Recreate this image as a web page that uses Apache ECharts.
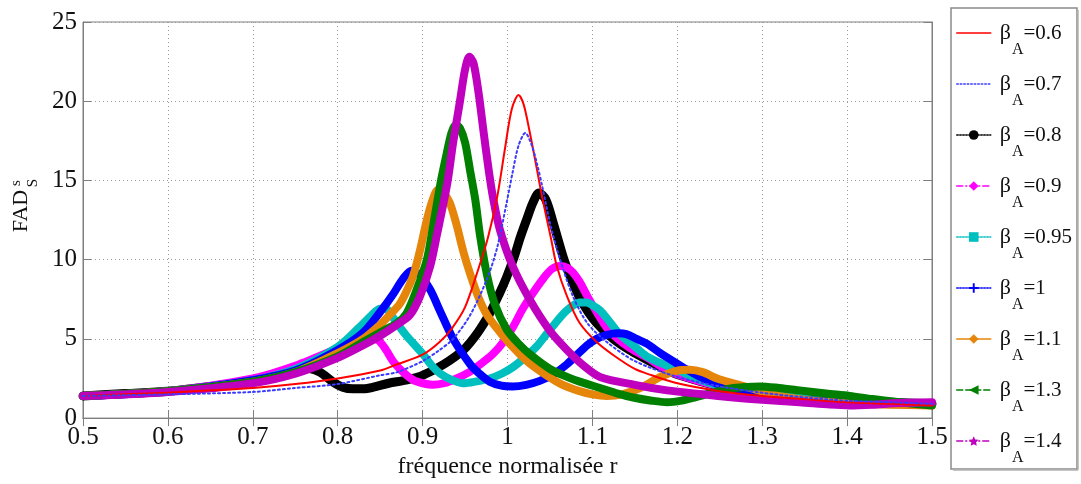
<!DOCTYPE html>
<html><head><meta charset="utf-8">
<script src="https://cdn.jsdelivr.net/npm/echarts@6/dist/echarts.min.js"></script>
<style>html,body{margin:0;padding:0;background:#fff}#c{width:1081px;height:484px}</style>
</head><body><div id="c"></div>
<script>
// ---- data (r, FAD) ----
const beta06 = [[0.5,1.4],[0.55,1.5],[0.6,1.6],[0.65,1.75],[0.7,1.9],[0.75,2.15],[0.8,2.5],[0.85,3.0],[0.87,3.4],[0.9,4.0],[0.92,4.8],[0.935,5.7],[0.95,7.0],[0.965,9.3],[0.977,11.4],[0.988,14.0],[0.997,17.0],[1.005,19.5],[1.013,20.4],[1.019,19.8],[1.026,18.1],[1.035,15.6],[1.041,13.9],[1.051,11.4],[1.058,9.6],[1.07,7.7],[1.085,6.0],[1.105,4.8],[1.124,4.0],[1.15,3.1],[1.17,2.7],[1.2,2.2],[1.25,1.7],[1.3,1.4],[1.35,1.2],[1.4,1.0],[1.45,0.9],[1.5,0.8]];
const beta07 = [[0.5,1.4],[0.6,1.5],[0.7,1.65],[0.75,1.9],[0.8,2.15],[0.85,2.7],[0.87,2.9],[0.9,3.6],[0.92,4.3],[0.936,5.0],[0.956,6.5],[0.976,8.8],[0.988,10.8],[0.999,13.6],[1.006,15.5],[1.013,17.2],[1.021,18.0],[1.028,17.3],[1.035,16.0],[1.041,14.6],[1.051,12.1],[1.062,10.0],[1.077,7.7],[1.094,6.0],[1.117,4.8],[1.15,3.6],[1.2,2.6],[1.25,2.0],[1.3,1.6],[1.35,1.3],[1.4,1.1],[1.45,1.0],[1.5,0.9]];
const beta08 = [[0.5,1.4],[0.55,1.55],[0.6,1.7],[0.65,2.0],[0.7,2.4],[0.73,2.85],[0.752,3.2],[0.765,3.15],[0.779,2.9],[0.794,2.3],[0.806,1.95],[0.818,1.85],[0.83,1.85],[0.842,1.95],[0.86,2.2],[0.88,2.4],[0.9,2.7],[0.925,3.4],[0.948,4.3],[0.965,5.4],[0.979,6.6],[0.99,7.8],[0.999,8.9],[1.008,10.2],[1.015,11.4],[1.023,12.6],[1.03,13.6],[1.037,14.2],[1.045,13.8],[1.054,12.3],[1.066,10.1],[1.075,8.8],[1.085,7.6],[1.095,6.7],[1.105,6.0],[1.118,5.3],[1.132,4.7],[1.15,4.1],[1.164,3.7],[1.185,3.1],[1.203,2.7],[1.25,2.0],[1.3,1.6],[1.35,1.3],[1.4,1.1],[1.45,1.0],[1.5,0.9]];
const beta09 = [[0.5,1.4],[0.6,1.7],[0.7,2.5],[0.75,3.3],[0.8,4.4],[0.82,4.9],[0.835,5.1],[0.848,4.9],[0.857,4.3],[0.865,3.6],[0.877,2.9],[0.889,2.4],[0.9,2.2],[0.912,2.1],[0.925,2.2],[0.94,2.5],[0.955,2.9],[0.968,3.4],[0.982,4.0],[0.995,4.8],[1.007,5.8],[1.018,6.9],[1.03,7.9],[1.042,8.8],[1.052,9.4],[1.062,9.6],[1.07,9.5],[1.077,9.2],[1.085,8.6],[1.094,7.7],[1.105,6.7],[1.117,5.7],[1.13,5.0],[1.145,4.4],[1.165,3.8],[1.183,3.2],[1.203,2.7],[1.25,2.0],[1.3,1.6],[1.35,1.3],[1.4,1.1],[1.45,1.0],[1.5,0.9]];
const beta095 = [[0.5,1.4],[0.6,1.7],[0.7,2.4],[0.75,3.1],[0.8,4.5],[0.825,5.7],[0.84,6.5],[0.85,6.9],[0.857,6.9],[0.862,6.6],[0.871,5.9],[0.881,5.2],[0.891,4.6],[0.901,4.0],[0.911,3.3],[0.921,2.8],[0.935,2.4],[0.948,2.2],[0.962,2.3],[0.979,2.5],[0.993,2.8],[1.006,3.2],[1.02,3.8],[1.034,4.5],[1.046,5.3],[1.058,6.1],[1.068,6.7],[1.077,7.1],[1.085,7.3],[1.093,7.3],[1.101,7.1],[1.109,6.8],[1.12,6.1],[1.132,5.3],[1.148,4.6],[1.164,3.9],[1.188,3.3],[1.21,2.8],[1.227,2.4],[1.26,1.9],[1.3,1.6],[1.35,1.3],[1.4,1.1],[1.45,1.0],[1.5,0.9]];
const beta10 = [[0.5,1.4],[0.6,1.7],[0.7,2.4],[0.75,3.0],[0.8,4.3],[0.83,5.4],[0.85,6.7],[0.865,7.8],[0.877,8.8],[0.887,9.3],[0.897,9.0],[0.909,8.1],[0.921,6.7],[0.936,5.0],[0.956,3.4],[0.967,2.8],[0.979,2.3],[0.993,2.05],[1.006,2.0],[1.022,2.1],[1.038,2.35],[1.055,2.8],[1.07,3.4],[1.082,4.0],[1.094,4.6],[1.105,5.0],[1.117,5.25],[1.13,5.35],[1.14,5.3],[1.152,5.0],[1.164,4.7],[1.18,4.1],[1.195,3.6],[1.21,3.1],[1.227,2.6],[1.25,2.1],[1.266,1.8],[1.306,1.35],[1.35,1.15],[1.4,1.0],[1.45,0.95],[1.5,0.9]];
const beta11 = [[0.5,1.4],[0.6,1.7],[0.7,2.3],[0.75,2.9],[0.8,4.1],[0.83,5.0],[0.85,5.9],[0.861,6.5],[0.873,7.2],[0.881,8.0],[0.889,9.0],[0.897,10.6],[0.905,12.5],[0.912,13.8],[0.918,14.4],[0.925,14.2],[0.932,13.6],[0.94,12.2],[0.948,10.5],[0.956,9.1],[0.966,7.6],[0.976,6.5],[0.99,5.5],[1.006,4.5],[1.025,3.5],[1.046,2.7],[1.065,2.1],[1.085,1.7],[1.1,1.5],[1.117,1.4],[1.135,1.5],[1.156,1.9],[1.18,2.6],[1.2,3.0],[1.215,3.05],[1.23,2.9],[1.247,2.5],[1.266,2.2],[1.286,1.9],[1.305,1.6],[1.325,1.35],[1.35,1.15],[1.384,1.0],[1.42,0.9],[1.45,0.85],[1.5,0.8]];
const beta13 = [[0.5,1.4],[0.6,1.7],[0.7,2.3],[0.75,2.9],[0.8,3.9],[0.83,4.8],[0.85,5.4],[0.87,6.0],[0.881,6.6],[0.893,8.1],[0.905,10.0],[0.912,12.0],[0.921,14.8],[0.928,16.6],[0.934,18.0],[0.939,18.5],[0.944,18.3],[0.95,17.4],[0.956,15.6],[0.962,13.8],[0.968,11.4],[0.976,9.0],[0.985,7.2],[0.999,5.6],[1.013,4.7],[1.027,4.0],[1.05,3.1],[1.07,2.6],[1.085,2.3],[1.109,1.9],[1.13,1.55],[1.148,1.3],[1.17,1.1],[1.188,1.0],[1.205,1.1],[1.22,1.3],[1.245,1.65],[1.266,1.9],[1.297,2.0],[1.32,1.9],[1.344,1.75],[1.375,1.55],[1.403,1.4],[1.43,1.2],[1.462,1.0],[1.5,0.8]];
const beta14 = [[0.5,1.4],[0.6,1.65],[0.7,2.2],[0.75,2.8],[0.8,3.8],[0.83,4.6],[0.85,5.2],[0.87,5.9],[0.885,6.5],[0.897,7.7],[0.909,9.6],[0.917,11.6],[0.929,14.8],[0.936,17.4],[0.944,20.0],[0.95,22.0],[0.955,22.8],[0.96,22.4],[0.966,20.5],[0.972,18.0],[0.978,15.6],[0.983,13.9],[0.991,11.9],[1.006,9.6],[1.027,7.4],[1.05,5.5],[1.07,4.3],[1.09,3.3],[1.109,2.6],[1.15,2.1],[1.188,1.75],[1.23,1.5],[1.266,1.3],[1.3,1.15],[1.344,1.0],[1.38,0.85],[1.403,0.8],[1.43,0.85],[1.46,0.95],[1.5,1.0]];
const betaLabels = ['0.6','0.7','0.8','0.9','0.95','1','1.1','1.3','1.4'];
const xName = 'fréquence normalisée r';
const xMin = 0.5, xMax = 1.5, xStep = 0.1;
const yMin = 0, yMax = 25, yStep = 5;

const FONT = 'Liberation Serif';
const STAR = 'path://M0,-10L2.9,-4L9.5,-3.1L4.7,1.5L5.9,8.1L0,5L-5.9,8.1L-4.7,1.5L-9.5,-3.1L-2.9,-4Z';
const PLUS = 'path://M-1.2,-6H1.2V-1.2H6V1.2H1.2V6H-1.2V1.2H-6V-1.2H-1.2Z';

const datasets = [beta06, beta07, beta08, beta09, beta095, beta10, beta11, beta13, beta14];
const styles = [
  {color:'#ff0000', w:2,   z:5, symbol:'none',    leg:'solid', noMark:true},
  {color:'#3b3bff', w:2,   z:6, symbol:'none',    leg:[1.5,2], dot:true, noMark:true},
  {color:'#000000', w:9,   z:2, symbol:'circle',  leg:'dotted'},
  {color:'#ff00ff', w:8,   z:2, symbol:'diamond', leg:[6,3,1,3]},
  {color:'#00bfbf', w:8,   z:2, symbol:'rect',    leg:'dotted'},
  {color:'#0000ff', w:8,   z:2, symbol:PLUS,      leg:'dotted'},
  {color:'#e5850a', w:8,   z:2, symbol:'diamond', leg:'solid'},
  {color:'#007f00', w:8,   z:2, symbol:'triangle',leg:'dashed', rot:90},
  {color:'#bf00bf', w:8,   z:2, symbol:STAR,      leg:[6,3,1,3]}
];
const names = betaLabels.map(b => 'βA=' + b);

const series = datasets.map((d, i) => {
  const s = styles[i];
  return {
    type:'line', name:names[i], data:d, z:s.z,
    symbol:s.symbol, symbolRotate:s.rot || 0, showSymbol:false, symbolSize:8,
    smooth:0.3, animation:false, silent:true,
    itemStyle:{color:s.color},
    lineStyle:{color:s.color, width:s.w, type: s.dot ? [2,3] : 'solid', cap:'round', join:'round'}
  };
});

const legendData = names.map((n, i) => ({
  name:n,
  lineStyle:{width:1.5, type: styles[i].leg, color: styles[i].color},
  itemStyle: styles[i].noMark ? {color:'rgba(0,0,0,0)', opacity:0, borderWidth:0} : {color: styles[i].color}
}));

const chart = echarts.init(document.getElementById('c'), null, {renderer:'canvas'});
const axisCol = '#7f7f7f';
chart.setOption({
  animation:false,
  backgroundColor:'#fff',
  textStyle:{fontFamily:FONT},
  grid:{left:83, right:149, top:22, bottom:60, show:true, borderColor:axisCol, borderWidth:1, backgroundColor:'#fff'},
  legend:{
    orient:'vertical', left:956, top:8, padding:0, itemGap:1,
    itemWidth:34, itemHeight:12, selectedMode:false,
    data:legendData,
    formatter: n => '{b|β}{s|A}{e|=' + n.split('=')[1] + '}',
    textStyle:{fontFamily:FONT, color:'#111',
      rich:{
        b:{fontFamily:FONT, fontSize:22, lineHeight:24, padding:[0,0,0,4], color:'#111'},
        s:{fontFamily:FONT, fontSize:16, lineHeight:20, padding:[34,0,0,1], color:'#111'},
        e:{fontFamily:FONT, fontSize:21, lineHeight:24, color:'#111'}
      }}
  },
  xAxis:[{
    type:'value', min:xMin, max:xMax, interval:xStep, position:'bottom',
    name:xName, nameLocation:'middle', nameGap:33,
    nameTextStyle:{fontFamily:FONT, fontSize:24, color:'#111'},
    axisLine:{show:true, lineStyle:{color:axisCol}},
    axisTick:{show:true, inside:true, length:8, lineStyle:{color:axisCol}},
    axisLabel:{fontFamily:FONT, fontSize:25, color:'#111', margin:7},
    splitLine:{show:true, lineStyle:{type:[1,3], color:'#9a9a9a'}}
  },{
    type:'value', min:xMin, max:xMax, interval:xStep, position:'top',
    axisLine:{show:true, lineStyle:{color:axisCol}},
    axisTick:{show:true, inside:true, length:8, lineStyle:{color:axisCol}},
    axisLabel:{show:false}, splitLine:{show:false}
  }],
  yAxis:[{
    type:'value', min:yMin, max:yMax, interval:yStep, position:'left',
    axisLine:{show:true, lineStyle:{color:axisCol}},
    axisTick:{show:true, inside:true, length:8, lineStyle:{color:axisCol}},
    axisLabel:{fontFamily:FONT, fontSize:25, color:'#111', margin:6},
    splitLine:{show:true, lineStyle:{type:[1,3], color:'#9a9a9a'}}
  },{
    type:'value', min:yMin, max:yMax, interval:yStep, position:'right',
    axisLine:{show:true, lineStyle:{color:axisCol}},
    axisTick:{show:true, inside:true, length:8, lineStyle:{color:axisCol}},
    axisLabel:{show:false}, splitLine:{show:false}
  }],
  graphic:[
    {type:'rect', z:-1, shape:{x:951, y:8, width:126, height:461}, style:{fill:'#fff', stroke:'#8a8a8a', lineWidth:1.5}},
    {type:'line', z:-1, shape:{x1:1078, y1:10, x2:1078, y2:470}, style:{stroke:'#b0b0b0', lineWidth:1.5}},
    {type:'line', z:-1, shape:{x1:953, y1:470, x2:1078, y2:470}, style:{stroke:'#b0b0b0', lineWidth:1.5}},
    {type:'text', x:21, y:211, rotation:Math.PI/2, style:{text:'FAD', font:'22px "Liberation Serif"', fill:'#111', align:'center', verticalAlign:'middle'}},
    {type:'text', x:16, y:183, rotation:Math.PI/2, style:{text:'s', font:'15px "Liberation Serif"', fill:'#111', align:'center', verticalAlign:'middle'}},
    {type:'text', x:33, y:183, rotation:Math.PI/2, style:{text:'S', font:'15px "Liberation Serif"', fill:'#111', align:'center', verticalAlign:'middle'}}
  ],
  series:series
});
</script></body></html>
